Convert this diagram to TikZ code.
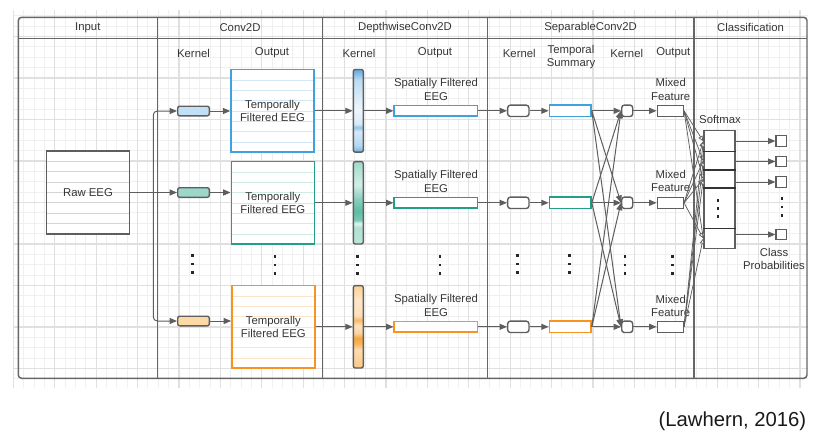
\documentclass[tikz,border=0pt]{standalone}
\usepackage{fontspec}
\setmainfont{Liberation Sans}
\usetikzlibrary{arrows.meta,calc}
\definecolor{ln}{HTML}{5E5E5E}
\definecolor{frm}{HTML}{666666}
\definecolor{txt}{HTML}{363636}
\definecolor{cblue}{HTML}{3FA2DE}
\definecolor{cteal}{HTML}{22A085}
\definecolor{corange}{HTML}{F7931E}
\definecolor{fblue}{HTML}{C2E0F5}
\definecolor{fteal}{HTML}{9DD7CA}
\definecolor{forange}{HTML}{FDDAA5}
\definecolor{lblue}{HTML}{D2E8F7}
\definecolor{lteal}{HTML}{CFEBE4}
\definecolor{lorange}{HTML}{FCE4C8}
\definecolor{lgray}{HTML}{D4D4D4}
\definecolor{gminor}{HTML}{F0F0F0}
\definecolor{gmajor}{HTML}{E0E0E0}
% bar shadings (path bbox maps to 25bp..75bp)
\pgfdeclareverticalshading{barblue}{100bp}{%
color(0bp)=(rgb,255:red,106;green,174;blue,226);
color(25bp)=(rgb,255:red,106;green,174;blue,226);
color(29bp)=(rgb,255:red,181;green,215;blue,240);
color(37.5bp)=(rgb,255:red,214;green,233;blue,247);
color(40bp)=(rgb,255:red,143;green,195;blue,233);
color(42bp)=(rgb,255:red,214;green,233;blue,247);
color(50.5bp)=(rgb,255:red,238;green,246;blue,252);
color(68.5bp)=(rgb,255:red,188;green,220;blue,242);
color(75bp)=(rgb,255:red,98;green,168;blue,223);
color(100bp)=(rgb,255:red,98;green,168;blue,223)}
\pgfdeclareverticalshading{barteal}{100bp}{%
color(0bp)=(rgb,255:red,189;green,230;blue,219);
color(25bp)=(rgb,255:red,189;green,230;blue,219);
color(35bp)=(rgb,255:red,176;green,224;blue,211);
color(37.5bp)=(rgb,255:red,226;green,244;blue,239);
color(39.5bp)=(rgb,255:red,123;green,201;blue,181);
color(45bp)=(rgb,255:red,95;green,188;blue,165);
color(52.5bp)=(rgb,255:red,139;green,208;blue,191);
color(61bp)=(rgb,255:red,211;green,238;blue,230);
color(75bp)=(rgb,255:red,160;green,217;blue,202);
color(100bp)=(rgb,255:red,160;green,217;blue,202)}
\pgfdeclareverticalshading{barorange}{100bp}{%
color(0bp)=(rgb,255:red,251;green,200;blue,134);
color(25bp)=(rgb,255:red,251;green,200;blue,134);
color(36bp)=(rgb,255:red,253;green,219;blue,174);
color(40bp)=(rgb,255:red,249;green,179;blue,90);
color(43.2bp)=(rgb,255:red,248;green,164;blue,62);
color(46.2bp)=(rgb,255:red,252;green,211;blue,160);
color(51bp)=(rgb,255:red,253;green,226;blue,189);
color(54bp)=(rgb,255:red,250;green,185;blue,100);
color(57bp)=(rgb,255:red,253;green,225;blue,187);
color(66.3bp)=(rgb,255:red,254;green,230;blue,200);
color(75bp)=(rgb,255:red,252;green,207;blue,149);
color(100bp)=(rgb,255:red,252;green,207;blue,149)}
\begin{document}
\begin{tikzpicture}[x=0.75pt,y=-0.75pt,
  font=\fontsize{8.5}{10.2}\selectfont, text=txt,
  sz/.style 2 args={minimum width={#1*0.75pt},minimum height={#2*0.75pt}},
  base/.style={draw=ln, line width=1.05pt, inner sep=0pt, fill=white},
  barbox/.style={draw=ln, line width=1.05pt, inner sep=0pt, rounded corners=1.5pt, shade, shading=#1},
  lined/.style={path picture={\foreach \k in {1,...,7}{\draw[#1,line width=0.6pt] ([yshift=-\k*7.75pt]path picture bounding box.north west) -- ([yshift=-\k*7.75pt]path picture bounding box.north east);}}},
  arr/.style={draw=ln, line width=0.75pt, -{Triangle[length=5.5pt,width=4.5pt]}},
  oarr/.style={draw=ln, line width=0.55pt, -{Triangle[open,length=4pt,width=3.4pt,fill=white]}},
  lbl/.style={align=center, inner sep=0pt},
  gridline/.style={line width=0.6pt},
  dotsq/.style={fill=black!85},
]
\useasboundingbox (0,0) rectangle (822,440);

% background grid
\begin{scope}
\clip (13,10) rectangle (808,388);
\foreach \i in {0,...,77}{\pgfmathsetmacro\xx{13.3+10.35*\i}\draw[gminor,gridline] (\xx,10) -- (\xx,388);}
\foreach \j in {0,...,37}{\pgfmathsetmacro\yy{5.375+10.375*\j}\draw[gminor,gridline] (13,\yy) -- (808,\yy);}
\foreach \i in {0,4,...,76}{\pgfmathsetmacro\xx{13.3+10.35*\i}\draw[gmajor,line width=0.9pt] (\xx,10) -- (\xx,388);}
\foreach \j in {3,7,...,35}{\pgfmathsetmacro\yy{5.375+10.375*\j}\draw[gmajor,line width=0.9pt] (13,\yy) -- (808,\yy);}
\end{scope}

% frame / swimlanes
\draw[frm, line width=1.1pt, rounded corners=2.5pt] (18.3,17.3) rectangle (807,378.3);
\draw[frm, line width=1.1pt] (18.3,38.3) -- (807,38.3);
\foreach \x in {157.3,322.7,487.3,694}{\draw[frm, line width=1.1pt] (\x,17.3) -- (\x,378.3);}

% headers
\node (hIn) at (87.8,27.8) {Input};
\node (hC) at (240,27.8) {Conv2D};
\node (hD) at (405,27.8) {DepthwiseConv2D};
\node (hS) at (590.6,27.8) {SeparableConv2D};
\node (hK) at (750.5,27.8) {Classification};

% sub headers
\node (sh1) at (193.5,53) {Kernel};
\node (sh2) at (272,53) {Output};
\node (sh3) at (359,53) {Kernel};
\node (sh4) at (435,53) {Output};
\node (sh5) at (519.3,53) {Kernel};
\node[lbl] (sh6) at (571,57) {Temporal\\Summary};
\node (sh7) at (626.7,53) {Kernel};
\node (sh8) at (673.3,53) {Output};

% input
\node[base, sz={82.6}{83}, lined=lgray] (raw) at (88,192.5) {Raw EEG};
\coordinate (split) at (153.3,192.5);

% Conv2D kernels
\node[base, rounded corners=1.5pt, sz={31.6}{9.6}, fill=fblue] (k1) at (193.5,111) {};
\node[base, rounded corners=1.5pt, sz={31.6}{9.6}, fill=fteal] (k2) at (193.5,192.5) {};
\node[base, rounded corners=1.5pt, sz={31.6}{9.6}, fill=forange] (k3) at (193.5,321) {};

\draw[arr] (raw.east) -- (k2.west);
\draw[arr, rounded corners=3pt] (split) |- (k1.west);
\draw[arr, rounded corners=3pt] (split) |- (k3.west);

% Conv2D outputs
\node[base, draw=cblue, line width=1.1pt, sz={83}{82.4}, lined=lblue, lbl] (o1) at (272.5,110.8) {Temporally\\Filtered EEG};
\node[base, draw=cteal, line width=1.1pt, sz={83}{82.4}, lined=lteal, lbl] (o2) at (272.8,202.8) {Temporally\\Filtered EEG};
\node[base, draw=corange, line width=1.1pt, sz={83}{82.4}, lined=lorange, lbl] (o3) at (273.3,326.8) {Temporally\\Filtered EEG};

\draw[arr] (k1.east) -- (k1.east -| o1.west);
\draw[arr] (k2.east) -- (k2.east -| o2.west);
\draw[arr] (k3.east) -- (k3.east -| o3.west);

% Depthwise kernels
\node[barbox=barblue, sz={10}{82.7}] (d1) at (358.3,110.8) {};
\node[barbox=barteal, sz={10}{82.3}] (d2) at (358.3,202.8) {};
\node[barbox=barorange, sz={10}{82.3}] (d3) at (358.3,326.8) {};

\draw[arr] (o1.east) -- (o1.east -| d1.west);
\draw[arr] (o2.east) -- (o2.east -| d2.west);
\draw[arr] (o3.east) -- (o3.east -| d3.west);

% Depthwise outputs
\node[base, draw=cblue, line width=1.1pt, sz={83.3}{10.4}] (s1) at (435.8,110.8) {};
\node[base, draw=cteal, line width=1.1pt, sz={83.3}{10.4}] (s2) at (435.8,202.8) {};
\node[base, draw=corange, line width=1.1pt, sz={83.3}{10.4}] (s3) at (435.8,326.8) {};
\node[lbl] (ls1) at (436,89.7) {Spatially Filtered\\EEG};
\node[lbl] (ls2) at (436,181.2) {Spatially Filtered\\EEG};
\node[lbl] (ls3) at (436,305.7) {Spatially Filtered\\EEG};

\draw[arr] (d1.east |- s1) -- (s1.west);
\draw[arr] (d2.east |- s2) -- (s2.west);
\draw[arr] (d3.east |- s3) -- (s3.west);

% Separable kernels
\node[base, rounded corners=2pt, sz={21.3}{11.3}] (p1) at (518.3,110.8) {};
\node[base, rounded corners=2pt, sz={21.3}{11.3}] (p2) at (518.3,202.8) {};
\node[base, rounded corners=2pt, sz={21.3}{11.3}] (p3) at (518.3,326.8) {};
\draw[arr] (s1.east) -- (p1.west);
\draw[arr] (s2.east) -- (p2.west);
\draw[arr] (s3.east) -- (p3.west);

% Temporal summaries
\node[base, draw=cblue, line width=1.1pt, sz={41.7}{11.4}] (t1) at (570.2,110.8) {};
\node[base, draw=cteal, line width=1.1pt, sz={41.7}{11.4}] (t2) at (570.2,202.8) {};
\node[base, draw=corange, line width=1.1pt, sz={41.7}{11.4}] (t3) at (570.2,326.8) {};
\draw[arr] (p1.east) -- (t1.west);
\draw[arr] (p2.east) -- (t2.west);
\draw[arr] (p3.east) -- (t3.west);

% pointwise kernels
\node[base, rounded corners=2pt, sz={11}{11.4}] (q1) at (627.2,110.8) {};
\node[base, rounded corners=2pt, sz={11}{11.4}] (q2) at (627.2,202.8) {};
\node[base, rounded corners=2pt, sz={11}{11.4}] (q3) at (627.2,326.8) {};
\foreach \i in {1,2,3}{\foreach \j in {1,2,3}{\draw[arr] (t\i.east) -- (q\j.west);}}

% mixed features
\node[base, line width=1.1pt, sz={26}{11}] (m1) at (670.3,110.8) {};
\node[base, line width=1.1pt, sz={26}{11}] (m2) at (670.3,202.8) {};
\node[base, line width=1.1pt, sz={26}{11}] (m3) at (670.3,326.8) {};
\node[lbl] (lm1) at (670.7,89.7) {Mixed\\Feature};
\node[lbl] (lm2) at (670.7,181) {Mixed\\Feature};
\node[lbl] (lm3) at (670.7,306) {Mixed\\Feature};
\draw[arr] (q1.east) -- (m1.west);
\draw[arr] (q2.east) -- (m2.west);
\draw[arr] (q3.east) -- (m3.west);

% softmax
\node[base, line width=1.1pt, sz={31}{117.6}] (sm) at (719.5,189.5) {};
\node (lsm) at (720,119) {Softmax};
\foreach \y in {151.7,170,188,228.3}{\draw[black!80, line width=0.9pt] (sm.west |- 0,\y) -- (sm.east |- 0,\y);}
\foreach \i in {1,2,3}{\foreach \y in {141.2,160.9,179,238.3}{\draw[oarr] (m\i.east) -- (sm.west |- 0,\y);}}

% class outputs
\node[base, line width=0.9pt, sz={10.7}{10.7}] (r1) at (781.3,141) {};
\node[base, line width=0.9pt, sz={10.7}{10.7}] (r2) at (781.3,161.5) {};
\node[base, line width=0.9pt, sz={10.7}{10.7}] (r3) at (781.3,182) {};
\node[base, line width=0.9pt, sz={10.7}{10.7}] (r4) at (781.3,234.5) {};
\foreach \i in {1,2,3,4}{\draw[arr] (sm.east |- r\i) -- (r\i.west);}
\node[lbl] (lcp) at (774,259) {Class\\Probabilities};

% vertical ellipses
\foreach \x/\y in {192.7/264,275/265,357.7/265,440/265,517.7/264,569.3/264,625/265,672.3/265,718/208.5,782/207}{
  \foreach \d in {-8.2,0,8.2}{\fill[dotsq] (\x-1.35,\y+\d-1.35) rectangle ++(2.7,2.7);}}

% citation
\node[anchor=east, font=\fontsize{15.2}{18}\selectfont, text=black!90] (cite) at (811,421.5) {(Lawhern, 2016)};
\end{tikzpicture}
\end{document}
